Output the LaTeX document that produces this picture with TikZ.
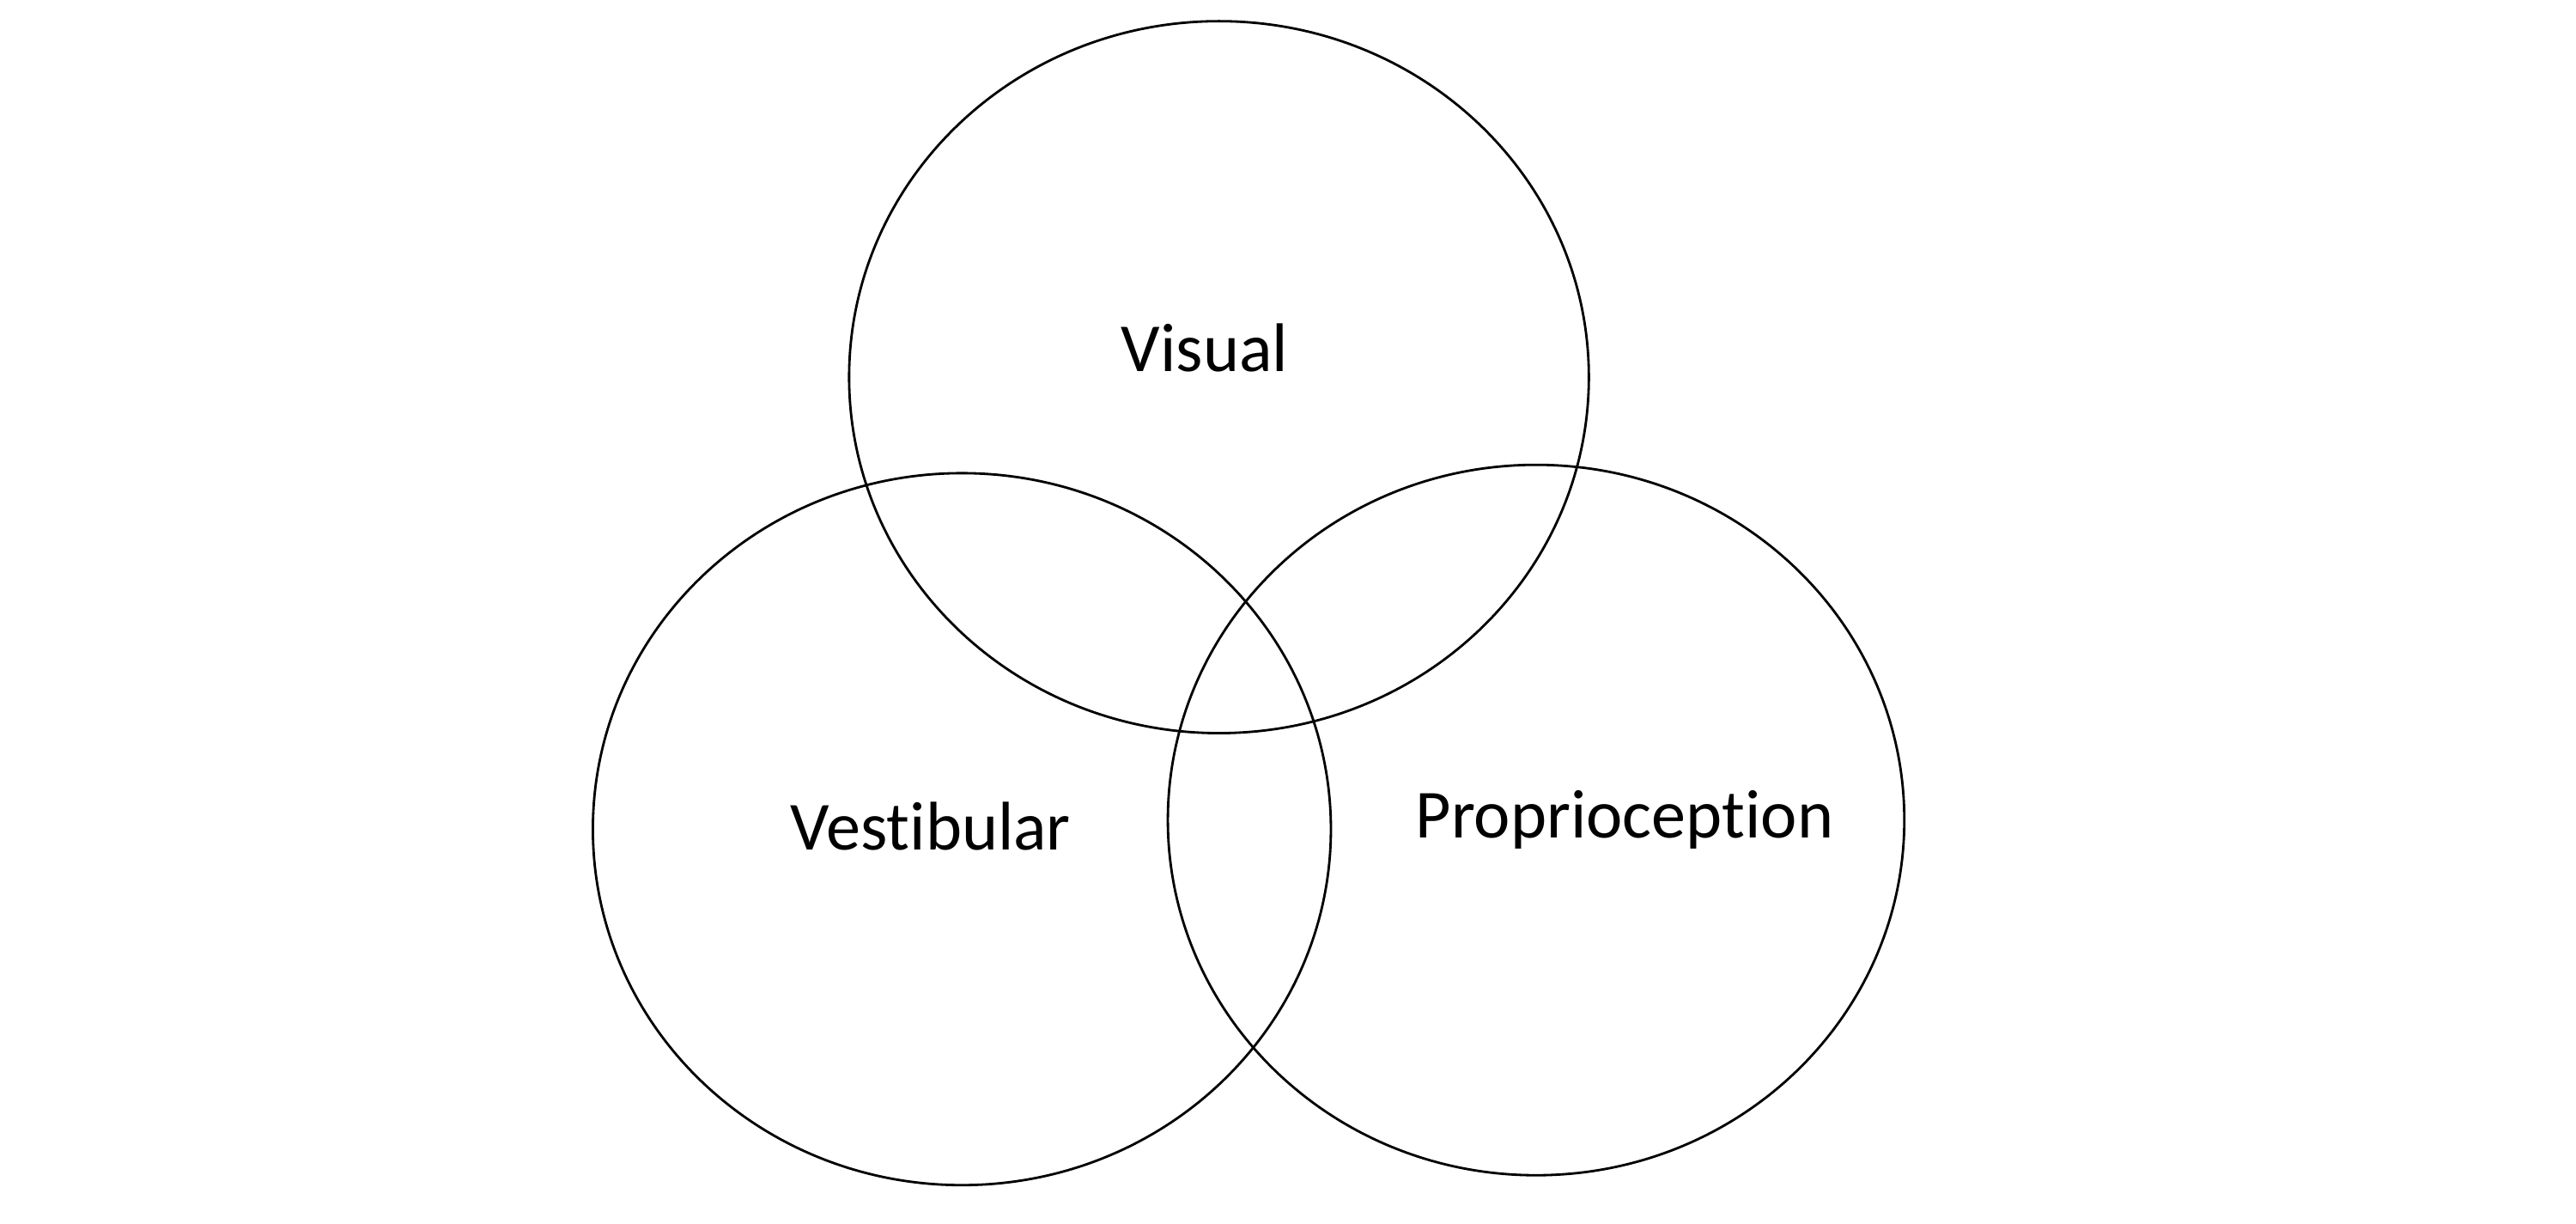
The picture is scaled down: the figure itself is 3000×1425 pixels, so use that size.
\documentclass[tikz,border=0pt]{standalone}
\usepackage{fontspec}
\setmainfont[Ligatures=NoCommon]{Carlito}
\begin{document}
\begin{tikzpicture}[x=0.01cm,y=-0.01cm,
  ring/.style={draw=black,line width=0.8pt},
  lbl/.style={anchor=base,inner sep=0pt,font=\fontsize{22.8}{27}\selectfont}]
\useasboundingbox (0,0) rectangle (3000,1425);
\draw[ring] (1419.6,439.1) ellipse [x radius=4.305cm, y radius=4.142cm];
\draw[ring] (1120.2,965.3) ellipse [x radius=4.295cm, y radius=4.142cm];
\draw[ring] (1788.9,954.7) ellipse [x radius=4.286cm, y radius=4.133cm];
\node[lbl] (visual) at (1403,433) {Visual};
\node[lbl] (vest) at (1084,989) {Vestibular};
\node[lbl] (prop) at (1892,975) {Proprioception};
\end{tikzpicture}
\end{document}
